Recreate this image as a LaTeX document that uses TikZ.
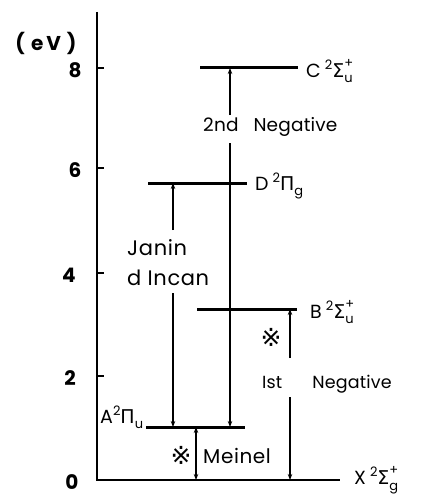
\documentclass[tikz,border=0pt]{standalone}
\usepackage{fontspec}
\setmainfont{Poppins}[LetterSpace=3]
\newfontfamily\negfont{Poppins}[LetterSpace=1]
\newfontfamily\symfont{DejaVu Sans}
\usetikzlibrary{arrows.meta}
\newcommand\idx[1]{{\fontsize{13}{13}\selectfont #1}}
\newcommand\stterm[4]{#1\hspace{4pt}\raisebox{0.42em}{\idx{2}}{\symfont #2}\makebox[0pt][l]{\raisebox{0.55em}{\idx{#4}}}\raisebox{-0.28em}{\idx{#3}}}
\begin{document}
\begin{tikzpicture}[x=1pt,y=-1pt,
  font=\fontsize{19}{23}\selectfont,
  axis/.style={line width=1.8pt},
  level/.style={line width=3pt},
  trh/.style={line width=1.3pt,-{Stealth[length=6pt,width=4.5pt]}},
  trhh/.style={line width=1.3pt,{Stealth[length=6pt,width=4.5pt]}-{Stealth[length=6pt,width=4.5pt]}},
  lab/.style={inner sep=0pt,anchor=west},
  neglab/.style={inner sep=0pt,anchor=west,font=\negfont\fontsize{17.5}{21}\selectfont},
  refmark/.style={inner sep=0pt,font=\symfont\fontsize{25}{25}\selectfont},
  num/.style={inner sep=0pt,font=\fontsize{20}{22}\selectfont\bfseries}]
\useasboundingbox (0,0) rectangle (421,495);
% axis
\coordinate (top) at (97,12);
\coordinate (Xl) at (97,480);
\coordinate (Xr) at (340,480);
\draw[axis] (top) -- (Xl) -- (Xr);
\foreach \y/\v/\xx in {68/8/75,168/6/75,273/4/69,376/2/70,480/0/72}{
  \draw[axis] (97,\y) -- (104,\y);
  \node[num] (t\v) at (\xx,\y+2) {\v};
}
\node[num] (ev) at (46,43) {(\hspace{6pt}e\hspace{3pt}V\hspace{6pt})};
% levels
\coordinate (Cl) at (200,68);  \coordinate (Cr) at (298,68);
\coordinate (Dl) at (148,183); \coordinate (Dr) at (247,183);
\coordinate (Bl) at (197,309); \coordinate (Br) at (297,309);
\coordinate (Al) at (146,427); \coordinate (Ar) at (245,427);
\draw[level] (Cl) -- (Cr);
\draw[level] (Dl) -- (Dr);
\draw[level] (Bl) -- (Br);
\draw[level] (Al) -- (Ar);
\node[lab] (Clab) at (306,71) {\stterm{C}{Σ}{u}{+}};
\node[lab] (Dlab) at (255,186) {\stterm{D}{Π}{g}{}};
\node[lab] (Blab) at (310,312) {\stterm{B}{Σ}{u}{+}};
\node[lab] (Xlab) at (354,480) {\stterm{X}{Σ}{g}{+}};
\node[lab] (Alab) at (100,417) {A\raisebox{0.42em}{\idx{2}}{\symfont Π}\raisebox{-0.28em}{\idx{u}}};
% transition labels
\node[neglab,font=\negfont\fontsize{18.5}{21}\selectfont] (neg2) at (203,127) {2nd\hspace{15pt}Negative};
\node[lab,align=left,font=\fontsize{21}{30}\selectfont] (jan) at (127,263) {Janin\\d Incan};
\node[lab,font=\fontsize{20}{23}\selectfont] (mei) at (203,456) {Meinel};
\node[neglab] (neg1) at (262,384) {Ist\hspace{30pt}Negative};
\node[refmark] (s1) at (181,455) {※};
\node[refmark] (s2) at (271,337) {※};
% transition arrows
\coordinate (C2) at (230,68);  \coordinate (A2) at (230,427);
\coordinate (n2t) at (230,115); \coordinate (n2b) at (230,143);
\draw[trh] (n2b) -- (A2);
\draw[trh] (n2t) -- (C2);
\coordinate (D3) at (173,183); \coordinate (A3) at (173,427);
\coordinate (jt) at (173,230); \coordinate (jb) at (173,293);
\draw[trh] (jt) -- (D3);
\draw[trh] (jb) -- (A3);
\coordinate (A4) at (196,427); \coordinate (X4) at (196,480);
\draw[trhh] (A4) -- (X4);
\coordinate (B5) at (290,309); \coordinate (X5) at (290,480);
\coordinate (n1t) at (290,358); \coordinate (n1b) at (290,397);
\draw[trh] (n1t) -- (B5);
\draw[trh] (n1b) -- (X5);
\end{tikzpicture}
\end{document}
